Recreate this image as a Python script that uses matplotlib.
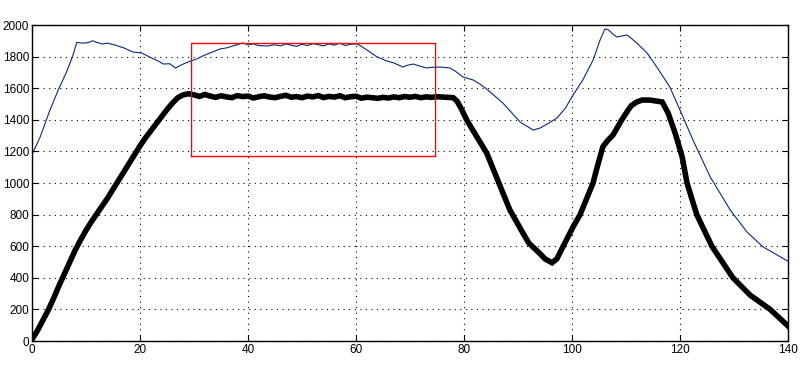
import matplotlib
matplotlib.use("Agg")
import matplotlib.pyplot as plt

# ─── data ──────────────────────────────────────────────
blue_x = [0, 1.5, 3.3, 5, 6.4, 7.5, 8.3, 9.5, 10.5, 11.2,
          12, 13, 14, 15.4, 17, 18.7, 20.3, 22.2, 23.5, 24.3,
          25.5, 26.6, 27.5, 28.9, 30.5, 32, 33.5, 34.8, 36, 37.2,
          39, 40, 41, 42, 43.5, 45, 46, 47, 48, 49,
          50, 51, 52, 53, 54, 55, 56, 57, 58, 59,
          60.2, 61, 62, 63.9, 65.7, 67, 68.7, 69.5, 70.6, 72,
          73.1, 74, 75.6, 77.4, 78.5, 79.8, 81.7, 83, 84.2, 87.2,
          90.4, 92.8, 94.1, 95.5, 97.2, 98.8, 100.2, 102, 103.9, 105.2,
          106.1, 106.7, 107.5, 108.3, 109.2, 110.2, 111, 112, 113.9, 115.7,
          118.1, 120, 122.4, 125.6, 129.3, 132.4, 135.4, 140]
blue_y = [1180, 1290, 1460, 1600, 1703, 1800, 1890, 1885, 1890, 1900,
          1890, 1880, 1885, 1873, 1855, 1829, 1823, 1790, 1770, 1753,
          1755, 1728, 1745, 1766, 1785, 1810, 1830, 1848, 1855, 1867,
          1886, 1875, 1880, 1870, 1867, 1875, 1868, 1880, 1872, 1865,
          1878, 1870, 1882, 1875, 1868, 1880, 1872, 1885, 1870, 1878,
          1880, 1865, 1842, 1798, 1772, 1760, 1734, 1745, 1753, 1738,
          1728, 1732, 1734, 1728, 1705, 1671, 1652, 1625, 1595, 1506,
          1386, 1335, 1348, 1375, 1411, 1475, 1557, 1652, 1778, 1905,
          1975, 1970, 1945, 1924, 1930, 1937, 1915, 1886, 1823, 1734,
          1608, 1462, 1272, 1038, 829, 690, 595, 505]

black_x = [0, 1, 2, 3, 4, 5, 6, 7, 8, 9,
           10, 11, 12, 13, 14, 15, 16, 17, 18, 19,
           20, 21, 22, 23, 24, 25, 26, 27, 28, 29,
           30, 31, 32, 33, 34, 35, 36, 37, 38, 39,
           40, 41, 42, 43, 44, 45, 46, 47, 48, 49,
           50, 51, 52, 53, 54, 55, 56, 57, 58, 59,
           60, 61, 62, 63, 64, 65, 66, 67, 68, 69,
           70, 71, 72, 73, 74, 75, 76, 77, 78, 78.7,
           79.5, 80.5, 82.4, 84.2, 86.1, 88.5, 90.9, 92, 94, 95,
           96.3, 97.2, 98.3, 100.2, 101.5, 103.9, 104.5, 105.7, 106.5, 107.6,
           109.2, 110.4, 111, 112, 113, 114.4, 116.7, 117.8, 119.1, 120.4,
           121.3, 123.1, 125.9, 129.8, 133, 136.7, 140]
black_y = [10, 65, 130, 195, 270, 350, 425, 500, 575, 640,
           700, 755, 805, 855, 905, 960, 1015, 1070, 1125, 1180,
           1235, 1285, 1330, 1375, 1420, 1465, 1505, 1540, 1558, 1565,
           1558, 1548, 1560, 1550, 1542, 1552, 1545, 1540, 1553, 1547,
           1550, 1538, 1546, 1552, 1544, 1540, 1548, 1555, 1543, 1547,
           1540, 1550, 1545, 1553, 1541, 1548, 1544, 1552, 1540, 1546,
           1549, 1537, 1543, 1540, 1536, 1542, 1538, 1545, 1540, 1547,
           1543, 1548, 1540, 1545, 1542, 1546, 1544, 1542, 1540, 1519,
           1470, 1399, 1291, 1190, 1030, 829, 684, 620, 555, 520,
           495, 520, 595, 722, 800, 1000, 1080, 1228, 1265, 1304,
           1399, 1462, 1490, 1513, 1525, 1525, 1513, 1443, 1316, 1165,
           1000, 800, 600, 400, 290, 200, 95]

box_x = [29.4, 74.7, 74.7, 29.4, 29.4]
box_y = [1170, 1170, 1884, 1884, 1170]

plt.rcParams['font.family'] = ['Liberation Sans', 'DejaVu Sans']

fig = plt.figure(figsize=(8.06, 3.66), dpi=100)
ax = fig.add_axes([32/806, 25/366, 756/806, 316/366])

ax.plot(blue_x, blue_y, color='#0a2a78', lw=0.8)
ax.plot(black_x, black_y, color='black', lw=4, solid_joinstyle='miter')
ax.plot(box_x, box_y, color='#ff0000', lw=1)

ax.set_xlim(0, 140)
ax.set_ylim(0, 2000)
ax.set_xticks(range(0, 141, 20))
ax.set_yticks(range(0, 2001, 200))
ax.grid(True, color='black', linestyle=(0, (1, 4)), lw=0.8)
ax.tick_params(direction='in', top=True, right=True, length=4, labelsize=8.5, pad=2)
for s in ax.spines.values():
    s.set_linewidth(1)

fig.savefig('out.png', dpi=100)
